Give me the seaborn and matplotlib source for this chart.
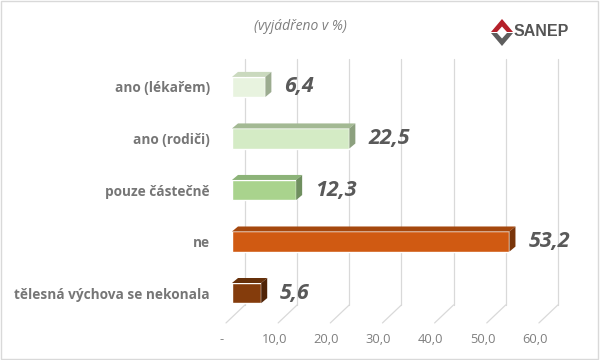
import matplotlib
matplotlib.use("Agg")
import matplotlib.pyplot as plt
import matplotlib.patches as mpatches
import seaborn as sns
import pandas as pd

categories = ["ano (lékařem)", "ano (rodiči)", "pouze částečně", "ne", "tělesná výchova se nekonala"]
values = [6.4, 22.5, 12.3, 53.2, 5.6]
value_labels = ["6,4", "22,5", "12,3", "53,2", "5,6"]
tick_values = [0, 10, 20, 30, 40, 50, 60]
tick_labels = ["-", "10,0", "20,0", "30,0", "40,0", "50,0", "60,0"]
front_colors = ["#E8F3DF", "#D4EBC5", "#A9D38D", "#D05A12", "#843C0C"]
top_colors = ["#CAD9BE", "#A3B993", "#8CB378", "#A5480E", "#66300A"]
side_colors = ["#9CAC90", "#8CA07E", "#6F8F5F", "#7A350A", "#4F2306"]

df = pd.DataFrame({"kategorie": categories, "hodnota": values})

sns.set_style("white")
plt.rcParams["font.family"] = ["Open Sans", "DejaVu Sans"]

fig = plt.figure(figsize=(6, 3.6), dpi=100)
ax = fig.add_axes([232 / 600, 1 - 325 / 360, 339 / 600, 270 / 360])

sns.barplot(data=df, x="hodnota", y="kategorie", hue="kategorie", palette=front_colors,
            legend=False, width=0.39, ax=ax, saturation=1, zorder=3)

ax.set_xlim(0, 65)
ax.set_ylim(4.62, -0.62)
for s in ax.spines.values():
    s.set_visible(False)
ax.set_xlabel("")
ax.set_ylabel("")
ax.set_xticks([])
ax.tick_params(axis="y", length=0, pad=16, labelsize=9.8, labelcolor="#767676")
for t in ax.get_yticklabels():
    t.set_fontweight("bold")

# pixel -> data conversions
px_x = 65 / 339
px_y = 5.24 / 270

# back wall gridlines with slanted floor lines
for v, lab in zip(tick_values, tick_labels):
    xb = v + 13 * px_x
    ax.plot([xb, xb], [-0.55, 4.23], color="#D9D9D9", lw=0.9, zorder=1, clip_on=False)
    ax.plot([xb, v - 6 * px_x], [4.23, 4.58], color="#D9D9D9", lw=0.9, zorder=1, clip_on=False)
    ax.text(v - 10 * px_x, 4.9, lab, ha="center", va="center",
            fontsize=9.3, color="#7F7F7F", clip_on=False)

# 3D faces on the bars
dx = 6 * px_x
dy = 5 * px_y
for i, p in enumerate(ax.patches[:len(values)]):
    x0, y0 = p.get_x(), p.get_y()
    w, h = p.get_width(), p.get_height()
    x1 = x0 + w
    top = mpatches.Polygon([(x0, y0), (x1, y0), (x1 + dx, y0 - dy), (x0 + dx, y0 - dy)],
                           closed=True, facecolor=top_colors[i], edgecolor="none", zorder=3)
    side = mpatches.Polygon([(x1, y0), (x1 + dx, y0 - dy), (x1 + dx, y0 + h - dy), (x1, y0 + h)],
                            closed=True, facecolor=side_colors[i], edgecolor="none", zorder=3)
    ax.add_patch(top)
    ax.add_patch(side)
    ax.text(x1 + dx + 13 * px_x, y0 + h / 2, value_labels[i], ha="left", va="center",
            fontsize=15.5, fontweight="bold", fontstyle="italic", color="#595959")

fig.text(0.5, 1 - 26 / 360, "(vyjádřeno v %)", ha="center", va="center",
         fontsize=10, fontstyle="italic", color="#7F7F7F")

# SANEP logo
lx, ly = 502 / 600, 1 - 32 / 360
sx, sy = 11 / 600, 10 / 360
fig.patches.append(mpatches.Polygon(
    [(lx - sx, ly), (lx, ly + 1.3 * sy), (lx + sx, ly), (lx + 0.45 * sx, ly), (lx, ly + 0.55 * sy), (lx - 0.45 * sx, ly)],
    closed=True, facecolor="#B5202A", edgecolor="none", transform=fig.transFigure))
fig.patches.append(mpatches.Polygon(
    [(lx - sx, ly - 0.1 * sy), (lx, ly - 1.4 * sy), (lx + sx, ly - 0.1 * sy), (lx + 0.45 * sx, ly - 0.1 * sy), (lx, ly - 0.65 * sy), (lx - 0.45 * sx, ly - 0.1 * sy)],
    closed=True, facecolor="#5E5E5E", edgecolor="none", transform=fig.transFigure))
fig.text(514 / 600, ly, "SANEP", ha="left", va="center", fontsize=11.5, fontweight="bold",
         color="#555555", family=["Liberation Sans", "DejaVu Sans"])

# light frame around the chart
fig.patches.append(mpatches.Rectangle((0.002, 0.003), 0.995, 0.994, fill=False, edgecolor="#D9D9D9",
                                      lw=1, transform=fig.transFigure))

fig.savefig("out.png", dpi=100, facecolor="white")
